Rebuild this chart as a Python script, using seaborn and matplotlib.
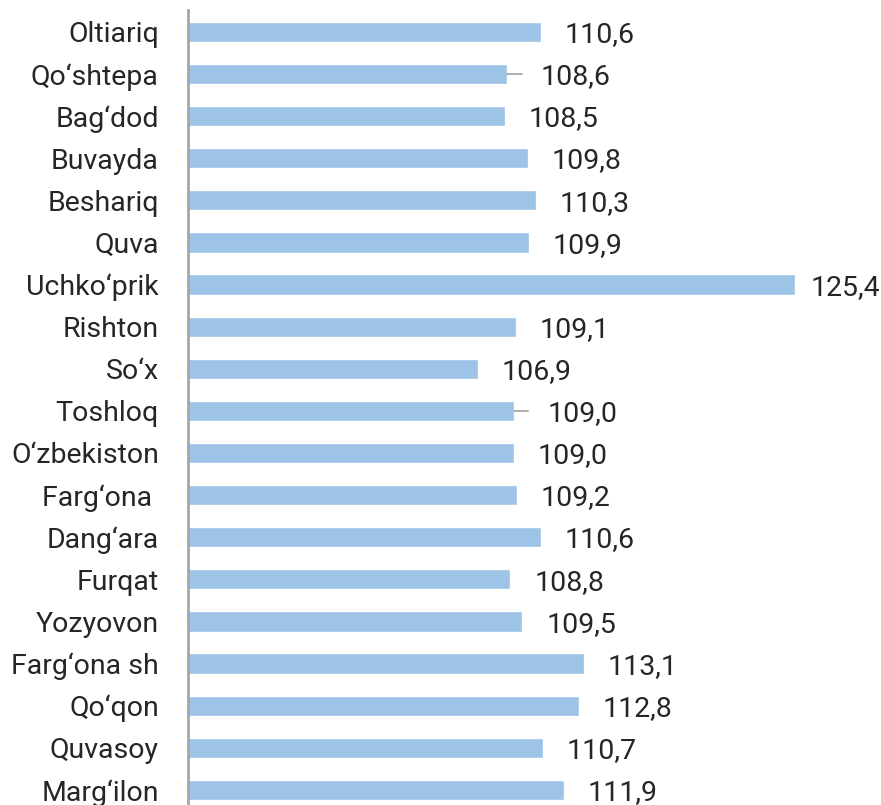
import pandas as pd
import matplotlib.pyplot as plt
import seaborn as sns

regions = ['Oltiariq', 'Qo‘shtepa', 'Bag‘dod', 'Buvayda', 'Beshariq', 'Quva',
           'Uchko‘prik', 'Rishton', 'So‘x', 'Toshloq', 'O‘zbekiston', 'Farg‘ona ',
           'Dang‘ara', 'Furqat', 'Yozyovon', 'Farg‘ona sh', 'Qo‘qon', 'Quvasoy',
           'Marg‘ilon']
values = [110.6, 108.6, 108.5, 109.8, 110.3, 109.9, 125.4, 109.1, 106.9, 109.0,
          109.0, 109.2, 110.6, 108.8, 109.5, 113.1, 112.8, 110.7, 111.9]
leader = ['Qo‘shtepa', 'Toshloq']

df = pd.DataFrame({'region': regions, 'value': values})

sns.set_style('white')
plt.rcParams['font.family'] = ['Roboto', 'DejaVu Sans']

fig = plt.figure(figsize=(8.81, 8.05), dpi=100)
ax = fig.add_axes([188 / 881, 0, 693 / 881, 795 / 805])

sns.barplot(data=df, x='value', y='region', orient='h', color='#9DC3E6',
            saturation=1, width=0.48, ax=ax)

ax.set_xlim(90, 130.4)
ax.set_ylim(len(regions) - 0.64, -0.52)

vmax = max(values)
for i, (r, v) in enumerate(zip(regions, values)):
    label = f'{v:.1f}'.replace('.', ',')
    dx = 17
    if r in leader:
        ax.plot([v, v + 0.85], [i, i], color='#A6A6A6', lw=1.3)
        dx = 24
    elif v == vmax:
        dx = 11  # keep the longest label inside the figure
    ax.annotate(label, (v, i), xytext=(dx, -2), textcoords='offset points',
                va='center', ha='left', fontsize=20.5)

ax.set_xlabel('')
ax.set_ylabel('')
ax.set_xticks([])
ax.tick_params(axis='y', length=0, pad=21, labelsize=20.5)
for s in ['top', 'right', 'bottom']:
    ax.spines[s].set_visible(False)
ax.spines['left'].set_color('#A6A6A6')
ax.spines['left'].set_linewidth(2)

fig.savefig('out.png', dpi=100)
